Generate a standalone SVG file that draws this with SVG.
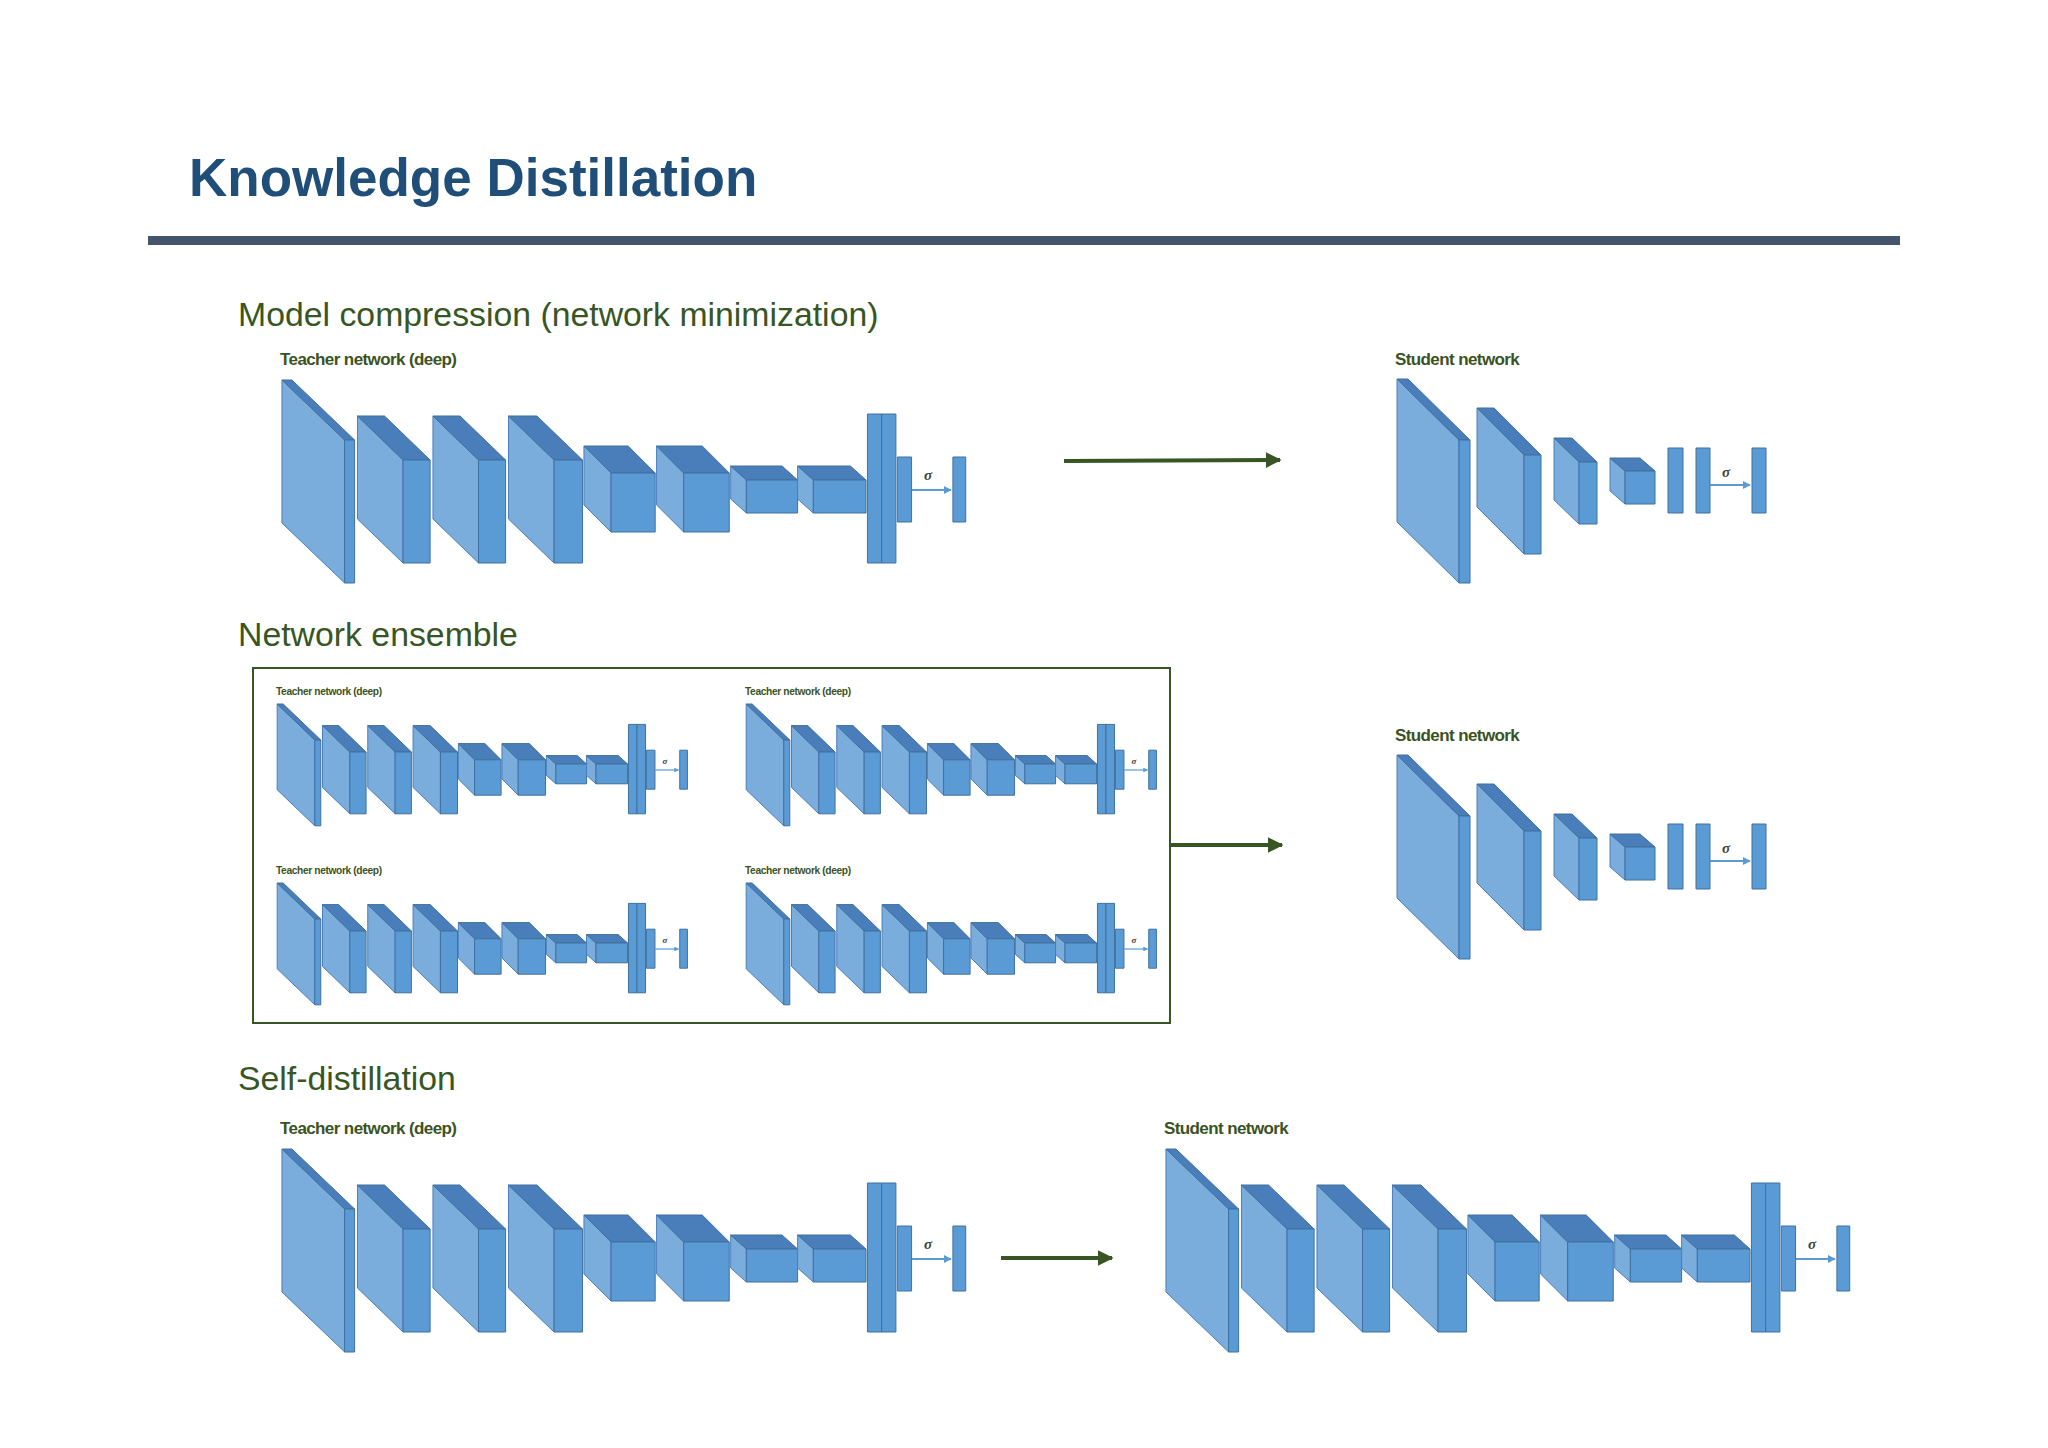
<svg xmlns="http://www.w3.org/2000/svg" xmlns:xlink="http://www.w3.org/1999/xlink" width="2048" height="1448" viewBox="0 0 2048 1448">
<style>
.l{fill:#7aaddc;stroke:#4a7ebb;stroke-width:1;vector-effect:non-scaling-stroke}
.t{fill:#4a7ebb;stroke:#41719c;stroke-width:1;vector-effect:non-scaling-stroke}
.f{fill:#5b9bd5;stroke:#41719c;stroke-width:1;vector-effect:non-scaling-stroke}
.lab{font-family:"Liberation Sans",Arial,sans-serif;font-weight:bold;font-size:17px;fill:#3b5323;letter-spacing:-0.6px}
.sig{font-family:"Liberation Serif",serif;font-style:italic;font-weight:bold;font-size:15px;fill:#404040}
.head{font-family:"Liberation Sans",Arial,sans-serif;font-size:33.8px;fill:#375623}
.conn{stroke:#375623;stroke-width:4;fill:none}
</style>
<defs>
<marker id="ah" viewBox="0 0 10 10" refX="9" refY="5" markerWidth="4" markerHeight="4" orient="auto" markerUnits="strokeWidth"><path d="M0,0L10,5L0,10z" fill="#375623"/></marker>
<marker id="bh" viewBox="0 0 10 10" refX="9" refY="5" markerWidth="4" markerHeight="4" orient="auto" markerUnits="strokeWidth"><path d="M0,0L10,5L0,10z" fill="#5b9bd5"/></marker>
<g id="tnet">
<g transform="matrix(1.4245,0,0,1,-111.2,0)">
<polygon class="l" points="320,440 320,583 276,523 276,380"/><polygon class="t" points="276,380 283,380 327,440 320,440"/><rect class="f" x="320" y="440" width="7" height="143"/>
<polygon class="l" points="361,460 361,563 329,519 329,416"/><polygon class="t" points="329,416 348,416 380,460 361,460"/><rect class="f" x="361" y="460" width="19" height="103"/>
<polygon class="l" points="414,460 414,563 382,519 382,416"/><polygon class="t" points="382,416 401,416 433,460 414,460"/><rect class="f" x="414" y="460" width="19" height="103"/>
<polygon class="l" points="467,460 467,563 435,519 435,416"/><polygon class="t" points="435,416 455,416 487,460 467,460"/><rect class="f" x="467" y="460" width="20" height="103"/>
<polygon class="l" points="507,473 507,532 488,505 488,446"/><polygon class="t" points="488,446 519,446 538,473 507,473"/><rect class="f" x="507" y="473" width="31" height="59"/>
<polygon class="l" points="558,473 558,532 539,505 539,446"/><polygon class="t" points="539,446 571,446 590,473 558,473"/><rect class="f" x="558" y="473" width="32" height="59"/>
<polygon class="l" points="602,480 602,513 591,499 591,466"/><polygon class="t" points="591,466 627,466 638,480 602,480"/><rect class="f" x="602" y="480" width="36" height="33"/>
<polygon class="l" points="649,480 649,513 638,499 638,466"/><polygon class="t" points="638,466 675,466 686,480 649,480"/><rect class="f" x="649" y="480" width="37" height="33"/>
<rect class="f" x="687" y="414" width="10" height="149"/><rect class="f" x="697" y="414" width="10" height="149"/>
<rect class="f" x="708" y="457" width="10" height="65"/>
<rect class="f" x="747" y="457" width="9" height="65"/>
</g>
<line x1="912" y1="490" x2="951" y2="490" stroke="#5b9bd5" stroke-width="2" marker-end="url(#bh)"/>
<text class="sig" x="924" y="480">σ</text>
</g>
<g id="snet">
<polygon class="l" points="1459,440 1459,583 1397,522 1397,379"/><polygon class="t" points="1397,379 1408,379 1470,440 1459,440"/><rect class="f" x="1459" y="440" width="11" height="143"/>
<polygon class="l" points="1524,455 1524,554 1477,507 1477,408"/><polygon class="t" points="1477,408 1494,408 1541,455 1524,455"/><rect class="f" x="1524" y="455" width="17" height="99"/>
<polygon class="l" points="1579,462 1579,524 1554,500 1554,438"/><polygon class="t" points="1554,438 1572,438 1597,462 1579,462"/><rect class="f" x="1579" y="462" width="18" height="62"/>
<polygon class="l" points="1625,471 1625,504 1610,491 1610,458"/><polygon class="t" points="1610,458 1640,458 1655,471 1625,471"/><rect class="f" x="1625" y="471" width="30" height="33"/>
<rect class="f" x="1668" y="448" width="15" height="65"/><rect class="f" x="1696" y="448" width="14" height="65"/>
<line x1="1710" y1="485" x2="1750" y2="485" stroke="#5b9bd5" stroke-width="2" marker-end="url(#bh)"/>
<text class="sig" x="1722" y="477">σ</text>
<rect class="f" x="1752" y="448" width="14" height="65"/>
<text class="lab" x="1395" y="365">Student network</text>
</g>
</defs>
<rect width="2048" height="1448" fill="#ffffff"/>
<text x="189" y="196" font-family="Liberation Sans,Arial,sans-serif" font-weight="bold" font-size="53" fill="#1f4e79">Knowledge Distillation</text>
<rect x="148" y="236" width="1752" height="9" fill="#44546a"/>
<text class="head" x="238" y="326">Model compression (network minimization)</text>
<text class="head" x="238" y="646">Network ensemble</text>
<text class="head" x="238" y="1090">Self-distillation</text>
<g id="teacher1"><use xlink:href="#tnet"/><text class="lab" x="280" y="365">Teacher network (deep)</text></g>
<g id="student1"><use xlink:href="#snet"/></g>
<g id="ensemble">
<rect x="253" y="668" width="917" height="355" fill="none" stroke="#375623" stroke-width="2"/>
<g transform="translate(108,476) scale(0.6)"><use xlink:href="#tnet"/><text class="lab" x="280" y="365">Teacher network (deep)</text></g>
<g transform="translate(577,476) scale(0.6)"><use xlink:href="#tnet"/><text class="lab" x="280" y="365">Teacher network (deep)</text></g>
<g transform="translate(108,655) scale(0.6)"><use xlink:href="#tnet"/><text class="lab" x="280" y="365">Teacher network (deep)</text></g>
<g transform="translate(577,655) scale(0.6)"><use xlink:href="#tnet"/><text class="lab" x="280" y="365">Teacher network (deep)</text></g>
</g>
<g id="student2" transform="translate(0,376)"><use xlink:href="#snet"/></g>
<g id="teacher3" transform="translate(0,769)"><use xlink:href="#tnet"/><text class="lab" x="280" y="365">Teacher network (deep)</text></g>
<g id="student3" transform="translate(884,769)"><use xlink:href="#tnet"/><text class="lab" x="280" y="365">Student network</text></g>
<g id="connectors">
<line class="conn" x1="1064" y1="461" x2="1280" y2="460" marker-end="url(#ah)"/>
<line class="conn" x1="1170" y1="845" x2="1282" y2="845" marker-end="url(#ah)"/>
<line class="conn" x1="1001" y1="1258" x2="1112" y2="1258" marker-end="url(#ah)"/>
</g>
</svg>
